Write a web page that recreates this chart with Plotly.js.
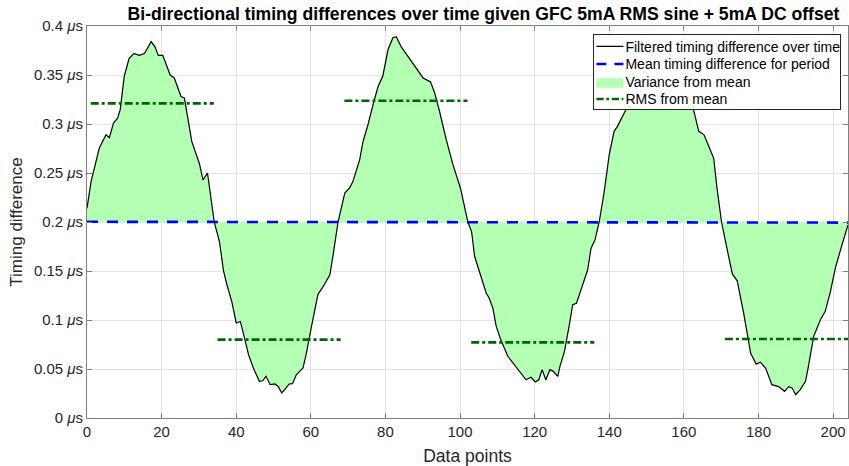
<!DOCTYPE html>
<html><head><meta charset="utf-8">
<script src="https://cdn.plot.ly/plotly-3.0.1.min.js"></script>
<style>html,body{margin:0;padding:0;background:#fff}#chart{width:849px;height:466px}</style>
</head><body><div id="chart"></div>
<script>
// Data points (x) and filtered timing difference (µs)
const xPoints = [0,1.1,3.3,5.1,6.0,7.1,8.2,8.9,10.0,11.3,12.6,14.0,15.4,17.2,18.2,19.1,20.3,22.3,23.4,25.2,26.1,28.1,30.1,31.1,32.3,34.1,35.5,
  36.6,37.5,38.8,40.0,41.1,42.0,43.3,44.6,46.2,47.1,48.0,49.1,50.4,51.3,52.2,53.0,54.2,55.1,56.1,57.9,58.8,60.1,61.9,63.3,65.1,66.0,67.3,69.1,70.4,71.3,
  73.1,74.0,75.3,76.7,78.0,79.3,80.7,82.0,82.9,84.2,86.1,88.3,90.1,92.1,93.2,94.5,96.3,98.1,100.1,102.1,103.1,103.9,105.2,107.0,107.8,
  108.8,109.7,110.9,112.8,114.6,116.4,117.7,119.0,120.2,121.1,122.0,123.0,124.1,125.0,126.2,126.8,128.0,129.3,130.2,131.2,132.9,134.2,135.1,136.2,137.3,138.6,140.0,141.3,142.2,143.6,145.3,
  147,149,151,153,155,157,159,161,162.3,
  164.0,165.4,166.7,168.0,168.9,170.1,171.6,173.0,174.3,176.1,177.9,179.4,180.5,181.9,183.6,185.4,187.0,188.1,189.0,190.0,191.2,192.6,193.3,194.8,196.6,197.9,199.3,200.6,202.4,204.0];
const timingDiff = [0.214,0.2415,0.2755,0.289,0.286,0.301,0.306,0.3146,0.349,0.367,0.372,0.370,0.372,0.384,0.379,0.370,0.370,0.350,0.347,0.328,0.3265,0.282,0.260,0.243,0.250,0.200,0.180,
  0.150,0.136,0.119,0.097,0.0985,0.085,0.0646,0.051,0.0374,0.038,0.0425,0.034,0.0347,0.032,0.0255,0.029,0.0347,0.035,0.044,0.051,0.066,0.092,0.126,0.134,0.146,0.167,0.200,0.2296,0.2347,0.2415,
  0.2636,0.2823,0.299,0.320,0.338,0.349,0.376,0.388,0.389,0.379,0.369,0.357,0.347,0.343,0.3316,0.313,0.284,0.2585,0.2347,0.200,0.190,0.165,0.150,0.1275,0.1224,
  0.1122,0.0935,0.080,0.063,0.0544,0.046,0.039,0.0415,0.0367,0.039,0.0493,0.039,0.0493,0.0476,0.0425,0.053,0.068,0.095,0.1156,0.117,0.136,0.151,0.173,0.182,0.200,0.2296,0.2687,0.2925,0.2976,0.308,0.321,
  0.340,0.355,0.368,0.375,0.378,0.372,0.360,0.335,0.319,
  0.2925,0.289,0.277,0.265,0.234,0.200,0.172,0.147,0.140,0.1054,0.066,0.055,0.057,0.051,0.034,0.032,0.0272,0.032,0.0306,0.0238,0.029,0.0374,0.051,0.0833,0.1003,0.1088,0.1292,0.153,0.177,0.197];

// Mean timing difference for period
const meanX = [0, 68, 136, 204];
const meanY = [0.2002, 0.2001, 0.1998, 0.1994];

// RMS from mean, one segment per half period
const rmsStart = [1, 35, 69, 103, 137, 171];
const rmsEnd = [34, 68, 102, 136, 170, 204];
const rmsValue = [0.321, 0.080, 0.3238, 0.0772, 0.3185, 0.0806];

// Tick labels
const xTickVals = [0, 20, 40, 60, 80, 100, 120, 140, 160, 180, 200];
const yTickVals = [0, 0.05, 0.1, 0.15, 0.2, 0.25, 0.3, 0.35, 0.4];
const yTickText = ['0 <i>μ</i>s','0.05 <i>μ</i>s','0.1 <i>μ</i>s','0.15 <i>μ</i>s','0.2 <i>μ</i>s','0.25 <i>μ</i>s','0.3 <i>μ</i>s','0.35 <i>μ</i>s','0.4 <i>μ</i>s'];

const rmsX = [], rmsY = [];
rmsStart.forEach((s, i) => { rmsX.push(s, rmsEnd[i], null); rmsY.push(rmsValue[i], rmsValue[i], null); });

const FONT = '"Liberation Sans", Arial, Helvetica, sans-serif';
const traces = [
  {x: meanX, y: meanY, mode: 'lines', line: {width: 0, color: 'rgba(0,0,0,0)'}, showlegend: false, hoverinfo: 'skip'},
  {x: xPoints, y: timingDiff, mode: 'lines', fill: 'tonexty', fillcolor: 'rgb(179,255,179)',
   line: {width: 0, color: 'rgb(179,255,179)'}, name: 'Variance from mean', legendrank: 3},
  {x: meanX, y: meanY, mode: 'lines', line: {color: '#0000ff', width: 2.6, dash: '11px,9px'},
   name: 'Mean timing difference for period', legendrank: 2},
  {x: xPoints, y: timingDiff, mode: 'lines', line: {color: '#000000', width: 1.2},
   name: 'Filtered timing difference over time', legendrank: 1},
  {x: rmsX, y: rmsY, mode: 'lines', connectgaps: false, line: {color: '#006400', width: 2.6, dash: '8px,3px,3px,3px'},
   name: 'RMS from mean', legendrank: 4}
];

const axisCommon = {
  showline: true, linecolor: '#808080', linewidth: 1, mirror: 'ticks',
  ticks: 'inside', ticklen: 5, tickcolor: '#808080',
  showgrid: true, gridcolor: '#e3e3e3', gridwidth: 1, zeroline: false,
  tickfont: {family: FONT, size: 15, color: '#262626'}
};

const layout = {
  width: 849, height: 466,
  margin: {l: 87, r: 1, t: 26, b: 48},
  paper_bgcolor: '#ffffff', plot_bgcolor: '#ffffff',
  font: {family: FONT, color: '#262626'},
  title: {text: '<b>Bi-directional timing differences over time given GFC 5mA RMS sine + 5mA DC offset</b>',
    font: {family: FONT, size: 17.6, color: '#000000'}, xref: 'paper', x: 0.521, xanchor: 'center',
    yref: 'container', y: 0.971, yanchor: 'middle'},
  xaxis: Object.assign({}, axisCommon, {range: [0, 204], tickvals: xTickVals,
    title: {text: 'Data points', font: {family: FONT, size: 17.5, color: '#262626'}, standoff: 10}}),
  yaxis: Object.assign({}, axisCommon, {range: [0, 0.4], tickvals: yTickVals, ticktext: yTickText,
    title: {text: 'Timing difference', font: {family: FONT, size: 17, color: '#262626'}, standoff: 6}}),
  legend: {x: 0.991, xanchor: 'right', y: 0.98, yanchor: 'top', bgcolor: '#ffffff',
    bordercolor: '#262626', borderwidth: 1, font: {family: FONT, size: 14, color: '#000000'},
    traceorder: 'normal', tracegroupgap: 0, itemwidth: 30},
  showlegend: true
};

Plotly.newPlot('chart', traces, layout, {displayModeBar: false, staticPlot: true}).then(gd => {
  // Compact the legend (row spacing and symbol/text gaps) to match the reference
  try {
    const ROW = 17.5;
    const items = Array.from(gd.querySelectorAll('.legend .traces')).map(el => {
      const m = /translate\(\s*([-\d.e]+)[ ,]+([-\d.e]+)\s*\)/.exec(el.getAttribute('transform') || '');
      return m ? {el, x: parseFloat(m[1]), y: parseFloat(m[2])} : null;
    }).filter(Boolean).sort((a, b) => a.y - b.y);
    if (items.length > 1) {
      const first = items[0].y - 4;
      items.forEach((it, i) => it.el.setAttribute('transform', `translate(${it.x},${first + i * ROW})`));
      const lastY = first + (items.length - 1) * ROW;
      // horizontal compaction: symbols 27px wide starting 2px in, text right after
      let maxW = 0;
      items.forEach(it => {
        const t = it.el.querySelector('.legendtext');
        const isFill = t && /Variance/.test(t.textContent || '');
        Array.from(it.el.children).forEach(ch => {
          if (ch.tagName.toLowerCase() === 'g') {
            const prev = ch.getAttribute('transform') || '';
            ch.setAttribute('transform', `translate(-2.5,0) scale(0.9,${isFill ? 1.6 : 1}) ` + prev);
          }
        });
        if (t) { t.setAttribute('x', 31); maxW = Math.max(maxW, t.getBBox().width); }
      });
      const bg = gd.querySelector('.legend rect.bg');
      if (bg) {
        const oldW = parseFloat(bg.getAttribute('width'));
        const newW = maxW > 0 ? Math.min(oldW, maxW + 32) : oldW;
        const newH = lastY + 10;
        bg.setAttribute('width', newW);
        bg.setAttribute('height', newH);
        const lg = gd.querySelector('g.legend');
        const m = /translate\(\s*([-\d.e]+)[ ,]+([-\d.e]+)\s*\)/.exec(lg.getAttribute('transform') || '');
        if (m) lg.setAttribute('transform', `translate(${parseFloat(m[1]) + (oldW - newW)},${m[2]})`);
      }
    }
  } catch (e) { /* keep default legend */ }
});
</script>
</body></html>
